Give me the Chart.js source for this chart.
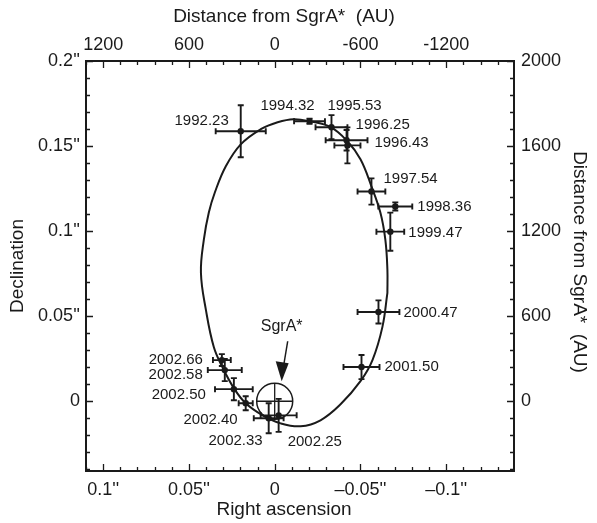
<!DOCTYPE html>
<html>
<head>
<meta charset="utf-8">
<script src="https://cdn.jsdelivr.net/npm/chart.js@4.4.0/dist/chart.umd.min.js"></script>
<style>
  html, body { margin: 0; padding: 0; background: #fff; }
</style>
</head>
<body>
<canvas id="orbitChart" width="597" height="523"></canvas>
<script>
// S2 positions relative to SgrA* (arcsec)
const epochs = ['1992.23', '1994.32', '1995.53', '1996.25', '1996.43', '1997.54', '1998.36', '1999.47',
                '2000.47', '2001.50', '2002.25', '2002.33', '2002.40', '2002.50', '2002.58', '2002.66'];
const raOffset  = [0.0198, -0.0203, -0.0331, -0.0419, -0.0424, -0.0564, -0.0703, -0.0674,
                   -0.0605, -0.0506, -0.0023, 0.0035, 0.0169, 0.0238, 0.0291, 0.0308];
const decOffset = [0.1587, 0.1646, 0.1611, 0.1534, 0.1504, 0.1233, 0.1145, 0.0997,
                   0.0525, 0.0201, -0.0083, -0.0100, -0.0012, 0.0071, 0.0183, 0.0242];
const raError   = [0.0146, 0.0090, 0.0093, 0.0122, 0.0076, 0.0081, 0.0099, 0.0081,
                   0.0122, 0.0105, 0.0105, 0.0087, 0.0041, 0.0110, 0.0099, 0.0052];
const decError  = [0.0153, 0.0015, 0.0071, 0.0060, 0.0106, 0.0077, 0.0024, 0.0112,
                   0.0068, 0.0071, 0.0097, 0.0088, 0.0041, 0.0065, 0.0065, 0.0035];

// fitted orbit (starts and ends on the right-hand side)
const orbitRa  = [-0.0657, -0.0628, -0.0570, -0.0500, -0.0384, -0.0267, -0.0151, -0.0035, 0.0070, 0.0169,
                  0.0238, 0.0302, 0.0355, 0.0401, 0.0430, 0.0413, 0.0384, 0.0349, 0.0285, 0.0198,
                  0.0081, -0.0017, -0.0110, -0.0203, -0.0326, -0.0424, -0.0500, -0.0564, -0.0616, -0.0645,
                  -0.0657, -0.0657];
const orbitDec = [0.0637, 0.0437, 0.0242, 0.0118, -0.0018, -0.0112, -0.0147, -0.0130, -0.0083, -0.0012,
                  0.0077, 0.0195, 0.0319, 0.0537, 0.0755, 0.0950, 0.1109, 0.1227, 0.1381, 0.1510,
                  0.1599, 0.1640, 0.1658, 0.1646, 0.1611, 0.1528, 0.1422, 0.1263, 0.1109, 0.0950,
                  0.0773, 0.0637];

const raTicks = [0.1, 0.05, 0, -0.05, -0.1];
const raTickLabels = ["0.1''", "0.05''", "0", "\u20130.05''", "\u20130.1''"];
const auTopLabels = ['1200', '600', '0', '-600', '-1200'];
const decTicks = [0, 0.05, 0.1, 0.15, 0.2];
const decTickLabels = ['0', "0.05''", "0.1''", "0.15''", "0.2''"];
const auRightLabels = ['0', '600', '1200', '1600', '2000'];

const FONT = "'Liberation Sans', Arial, Helvetica, sans-serif";
const INK = '#1a1a1a';

// label placement next to each point: [dx, dy, align]
const labelOffsets = [
  [-12, -10, 'right'], [-22, -15, 'center'], [-4, -21, 'left'], [9, -15, 'left'],
  [27, -3, 'left'], [12, -13, 'left'], [22, 0, 'left'], [18, 1, 'left'],
  [25, 1, 'left'], [23, 0, 'left'], [9, 26, 'left'], [-6, 23, 'right'],
  [-8, 17, 'right'], [-28, 6, 'right'], [-22, 5, 'right'], [-19, 0, 'right']
];

const orbitPlugin = {
  id: 'orbitDecor',
  beforeDatasetsDraw(chart) {
    const ctx = chart.ctx;
    const a = chart.chartArea;
    const x = chart.scales.x, y = chart.scales.y;
    ctx.save();
    ctx.strokeStyle = INK;
    ctx.lineWidth = 1.3;
    // inward tick marks, every 0.01''
    for (let k = Math.ceil(x.min / 0.01 - 1e-6); k <= Math.floor(x.max / 0.01 + 1e-6); k++) {
      const px = Math.round(x.getPixelForValue(k * 0.01)) + 0.5;
      const len = k % 5 === 0 ? 7 : 4;
      ctx.beginPath();
      ctx.moveTo(px, a.bottom); ctx.lineTo(px, a.bottom - len);
      ctx.moveTo(px, a.top); ctx.lineTo(px, a.top + len);
      ctx.stroke();
    }
    for (let k = Math.ceil(y.min / 0.01 - 1e-6); k <= Math.floor(y.max / 0.01 + 1e-6); k++) {
      const py = Math.round(y.getPixelForValue(k * 0.01)) + 0.5;
      const len = k % 5 === 0 ? 7 : 4;
      ctx.beginPath();
      ctx.moveTo(a.left, py); ctx.lineTo(a.left + len, py);
      ctx.moveTo(a.right, py); ctx.lineTo(a.right - len, py);
      ctx.stroke();
    }
    ctx.lineWidth = 2;
    ctx.strokeRect(a.left, a.top, a.right - a.left, a.bottom - a.top);
    ctx.restore();
  },
  afterDatasetsDraw(chart) {
    const ctx = chart.ctx;
    const x = chart.scales.x, y = chart.scales.y;
    ctx.save();
    ctx.strokeStyle = INK;
    ctx.fillStyle = INK;
    ctx.lineWidth = 1.9;
    const cap = 3;
    epochs.forEach((ep, i) => {
      const px = x.getPixelForValue(raOffset[i]);
      const py = y.getPixelForValue(decOffset[i]);
      const x1 = x.getPixelForValue(raOffset[i] - raError[i]);
      const x2 = x.getPixelForValue(raOffset[i] + raError[i]);
      const y1 = y.getPixelForValue(decOffset[i] - decError[i]);
      const y2 = y.getPixelForValue(decOffset[i] + decError[i]);
      ctx.beginPath();
      ctx.moveTo(x1, py); ctx.lineTo(x2, py);
      ctx.moveTo(x1, py - cap); ctx.lineTo(x1, py + cap);
      ctx.moveTo(x2, py - cap); ctx.lineTo(x2, py + cap);
      ctx.moveTo(px, y1); ctx.lineTo(px, y2);
      ctx.moveTo(px - cap, y1); ctx.lineTo(px + cap, y1);
      ctx.moveTo(px - cap, y2); ctx.lineTo(px + cap, y2);
      ctx.stroke();
      const off = labelOffsets[i];
      ctx.font = '15px ' + FONT;
      ctx.textAlign = off[2];
      ctx.textBaseline = 'middle';
      ctx.fillText(ep, px + off[0], py + off[1]);
    });

    // SgrA* label with arrow
    const ox = x.getPixelForValue(0), oy = y.getPixelForValue(0);
    ctx.font = '16px ' + FONT;
    ctx.textAlign = 'center';
    ctx.fillText('SgrA*', ox + 7, oy - 75);
    ctx.lineWidth = 1.5;
    ctx.beginPath();
    ctx.moveTo(ox + 13, oy - 60);
    ctx.lineTo(ox + 9, oy - 36);
    ctx.stroke();
    ctx.beginPath();
    ctx.moveTo(ox + 1, oy - 40);
    ctx.lineTo(ox + 14, oy - 38);
    ctx.lineTo(ox + 7, oy - 20);
    ctx.closePath();
    ctx.fill();

    // axis titles
    const a = chart.chartArea;
    ctx.font = '19px ' + FONT;
    ctx.textAlign = 'center';
    ctx.fillText('Distance from SgrA*  (AU)', 284, 17);
    ctx.fillText('Right ascension', 284, 510);
    ctx.save();
    ctx.translate(18, (a.top + a.bottom) / 2);
    ctx.rotate(-Math.PI / 2);
    ctx.fillText('Declination', 0, 0);
    ctx.restore();
    ctx.save();
    ctx.translate(579, 262);
    ctx.rotate(Math.PI / 2);
    ctx.fillText('Distance from SgrA*  (AU)', 0, 0);
    ctx.restore();
    ctx.restore();
  }
};

function fixTicks(values) {
  return scale => { scale.ticks = values.map(v => ({ value: v })); };
}

const tickFont = { family: FONT, size: 18 };
const baseScale = {
  type: 'linear',
  grid: { display: false, drawTicks: false },
  border: { display: false },
};

new Chart(document.getElementById('orbitChart'), {
  type: 'scatter',
  data: {
    datasets: [
      {
        label: 'orbit',
        data: orbitRa.map((v, i) => ({ x: v, y: orbitDec[i] })),
        showLine: true,
        tension: 0.4,
        borderColor: INK,
        borderWidth: 2,
        pointRadius: 0
      },
      {
        label: 'S2',
        data: raOffset.map((v, i) => ({ x: v, y: decOffset[i] })),
        pointStyle: epochs.map(e => e === '1994.32' ? 'rect' : 'circle'),
        pointRadius: epochs.map(e => e === '1994.32' ? 4 : 3.2),
        backgroundColor: INK,
        borderColor: INK,
        borderWidth: 0
      },
      {
        label: 'SgrA* ring',
        data: [{ x: 0, y: 0 }],
        pointStyle: 'circle',
        pointRadius: 18,
        backgroundColor: 'rgba(0,0,0,0)',
        borderColor: INK,
        borderWidth: 1.5
      },
      {
        label: 'SgrA* cross',
        data: [{ x: 0, y: 0 }],
        pointStyle: 'cross',
        pointRadius: 18,
        borderColor: INK,
        borderWidth: 1.3
      }
    ]
  },
  options: {
    responsive: false,
    animation: false,
    devicePixelRatio: 1,
    layout: { padding: 0 },
    plugins: { legend: { display: false }, tooltip: { enabled: false } },
    scales: {
      x: {
        ...baseScale, position: 'bottom', reverse: true, min: -0.1395, max: 0.110,
        afterBuildTicks: fixTicks(raTicks),
        afterFit: s => { s.height = 52; },
        ticks: { font: tickFont, color: INK, padding: 8, maxRotation: 0,
                 callback: v => raTickLabels[raTicks.indexOf(v)] }
      },
      x2: {
        ...baseScale, position: 'top', reverse: true, min: -0.1395, max: 0.110,
        afterBuildTicks: fixTicks(raTicks),
        afterFit: s => { s.height = 61; },
        ticks: { font: tickFont, color: INK, padding: 5, maxRotation: 0,
                 callback: v => auTopLabels[raTicks.indexOf(v)] }
      },
      y: {
        ...baseScale, position: 'left', min: -0.041, max: 0.2,
        afterBuildTicks: fixTicks(decTicks),
        afterFit: s => { s.width = 86; },
        ticks: { font: tickFont, color: INK, padding: 6,
                 callback: v => decTickLabels[decTicks.indexOf(v)] }
      },
      y2: {
        ...baseScale, position: 'right', min: -0.041, max: 0.2,
        afterBuildTicks: fixTicks(decTicks),
        afterFit: s => { s.width = 83; },
        ticks: { font: tickFont, color: INK, padding: 7,
                 callback: v => auRightLabels[decTicks.indexOf(v)] }
      }
    }
  },
  plugins: [orbitPlugin]
});
</script>
</body>
</html>
